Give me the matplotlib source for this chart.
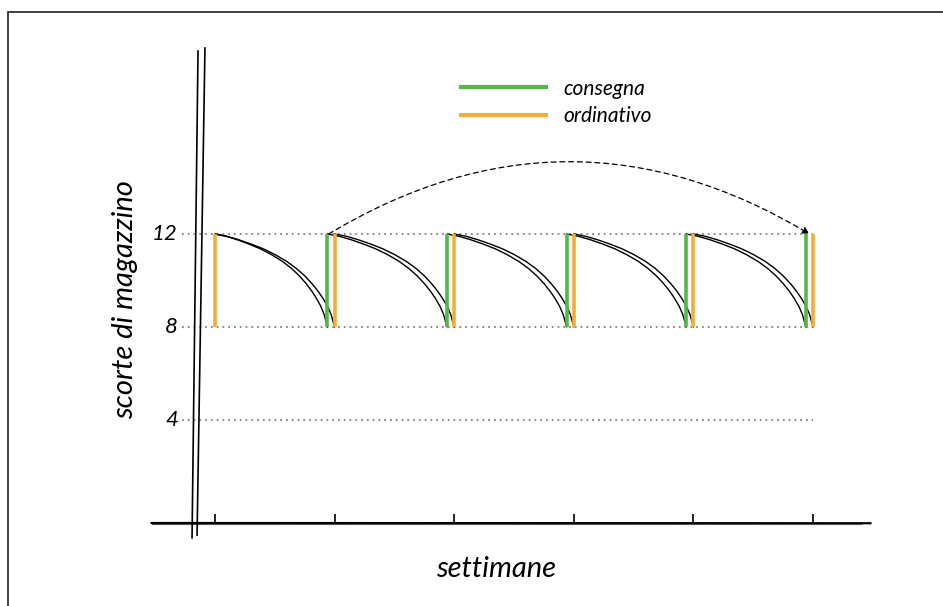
import matplotlib
matplotlib.use("Agg")
import matplotlib.pyplot as plt
from matplotlib.patches import Rectangle
from matplotlib.lines import Line2D

# --- data -------------------------------------------------------------
settimane = [0, 1, 2, 3, 4, 5]            # weekly ticks on the time axis
livelli_y = [4, 8, 12]                     # stock levels shown on the y axis
etichette_y = ["4", "8", "12"]
scorta_max = 12                            # level right after a delivery
scorta_min = 8                             # level when the next order arrives
settimane_consegna = [1, 2, 3, 4, 5]       # weeks with a delivery (green)
settimane_ordine = [0, 1, 2, 3, 4, 5]      # weeks with an order (orange)
# stock consumption inside one week (fraction of week -> stock level)
frazione_settimana = [0.0, 0.1, 0.2, 0.3, 0.4, 0.5, 0.6, 0.68, 0.75,
                      0.81, 0.86, 0.9, 0.94, 0.97, 1.0]
scorte_settimana = [12.0, 11.9, 11.75, 11.57, 11.37, 11.12, 10.82, 10.52,
                    10.2, 9.87, 9.55, 9.25, 8.9, 8.55, 8.0]

VERDE = "#52b848"
ARANCIO = "#f4ac3a"
ANTICIPO = 0.06   # delivery bar drawn slightly before the order bar

FONT = dict(family=["Lato", "DejaVu Sans"], style="italic")

fig = plt.figure(figsize=(9.43, 6.06), dpi=100)
ax = fig.add_axes([0.1519, 0.0959, 0.7864, 0.8441])
ax.set_xlim(-0.6, 5.6)
ax.set_ylim(-1.5, 20.5)
ax.axis("off")

# dotted reference levels
for liv in livelli_y:
    ax.plot([-0.28, settimane[-1]], [liv, liv], ls=(0, (1, 2.2)),
            color="#808080", lw=1.3, zorder=1)

# level labels
for liv, lab in zip(livelli_y, etichette_y):
    ax.text(-0.31, liv, lab, ha="right", va="center", fontsize=16,
            color="black", **FONT)

# consumption curves: one following the delivery bar, one the order bar
for w in settimane[:-1]:
    for off in (0.0, -ANTICIPO):
        start = w + off if w > 0 else w
        end = w + 1 + off
        xs = [start + f * (end - start) for f in frazione_settimana]
        ax.plot(xs, scorte_settimana, color="black", lw=1.0, zorder=3,
                solid_capstyle="round", solid_joinstyle="round")

# delivery and order bars
ax.vlines([w - ANTICIPO for w in settimane_consegna], scorta_min, scorta_max,
          color=VERDE, lw=2.6, zorder=4, label="consegna")
ax.vlines(settimane_ordine, scorta_min, scorta_max,
          color=ARANCIO, lw=2.6, zorder=4, label="ordinativo")

# dashed arc from the first delivery to the last order
ax.annotate("", xy=(settimane[-1] - 0.03, scorta_max),
            xytext=(settimane_consegna[0] - ANTICIPO + 0.01, scorta_max),
            arrowprops=dict(arrowstyle="-|>", linestyle=(0, (4, 3)),
                            lw=0.9, color="black", mutation_scale=10,
                            shrinkA=0, shrinkB=0,
                            connectionstyle="arc3,rad=-0.3"),
            zorder=5)

# hand-drawn axes (double strokes)
ax.add_line(Line2D([-0.53, 5.48], [-0.43, -0.44], color="black", lw=1.6, zorder=2))
ax.add_line(Line2D([-0.53, 5.40], [-0.47, -0.47], color="#555555", lw=0.8, zorder=2))
ax.add_line(Line2D([-0.142, -0.192], [19.87, -1.07], color="black", lw=1.2, zorder=2))
ax.add_line(Line2D([-0.084, -0.150], [20.0, -0.95], color="black", lw=1.2, zorder=2))

# x tick marks
ax.vlines(settimane, -0.43, -0.05, color="black", lw=1.2, zorder=2)

# legend
leg = ax.legend(loc="upper left", bbox_to_anchor=(440 / 943, 1 - 60 / 606),
                bbox_transform=fig.transFigure, frameon=False,
                handlelength=4.3, handletextpad=0.72, labelspacing=0.35,
                prop=dict(size=15, **FONT))
for h in leg.legend_handles:
    h.set_linewidth(3.0)

# axis titles
fig.text(125 / 943, 1 - 300 / 606, "scorte di magazzino", rotation=90,
         ha="center", va="center", fontsize=21, **FONT)
fig.text(496 / 943, 1 - 569 / 606, "settimane", ha="center", va="center",
         fontsize=21, **FONT)

# outer frame
fig.add_artist(Rectangle((8 / 943, -0.1), 1.2, 1.1 - 12 / 606,
                         transform=fig.transFigure, fill=False,
                         edgecolor="#333333", lw=1.3))

fig.savefig("out.png", dpi=100)
